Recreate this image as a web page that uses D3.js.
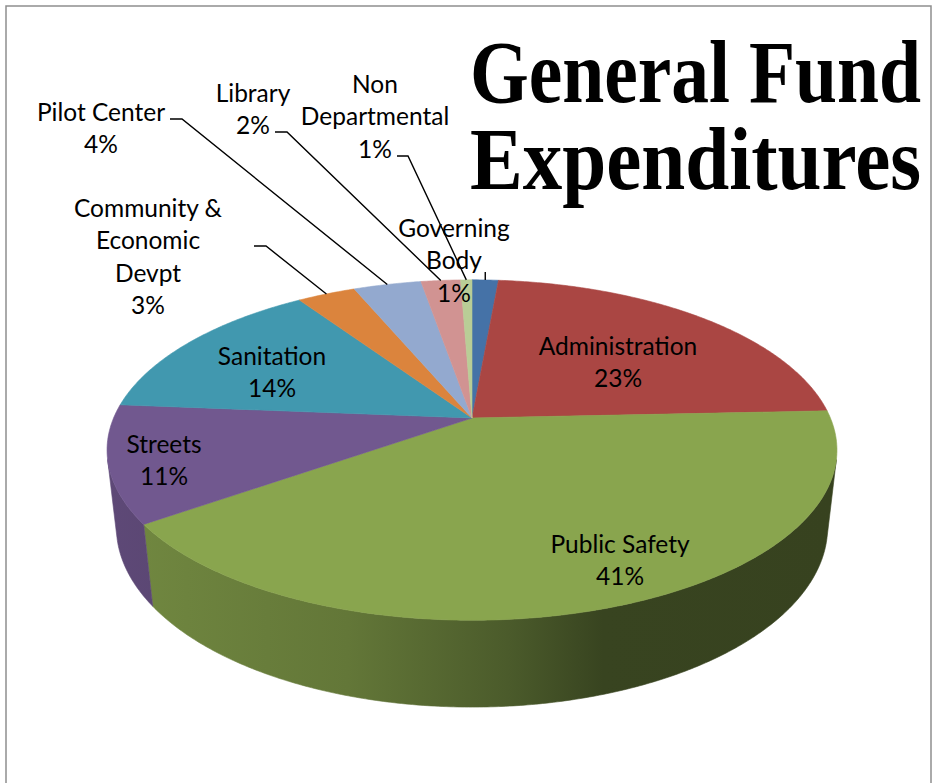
<!DOCTYPE html>
<html>
<head>
<meta charset="utf-8">
<script src="https://cdn.jsdelivr.net/npm/d3@7"></script>
<style>
  body { margin: 0; background: #fff; }
  .lbl { font-family: Lato, "Open Sans", sans-serif; font-size: 24.5px; fill: #000; }
  .title { font-family: "Liberation Serif", serif; font-weight: bold; font-size: 89px; fill: #000; }
</style>
</head>
<body>
<div id="chart"></div>
<script>
// data
const categories = ["Governing Body", "Administration", "Public Safety", "Streets", "Sanitation",
    "Community & Economic Devpt", "Pilot Center", "Library", "Non Departmental"]
const values = [1.4, 22.9, 40.9, 11.1, 14.3, 3.1, 3.6, 2.1, 0.6]
const colors = ["#4572A7", "#AA4643", "#89A54E", "#71588F", "#4198AF", "#DB843D", "#93A9CF", "#D19392", "#B9CD96"]
const labelLines = [
    ["Governing", "Body"],
    ["Administration"],
    ["Public Safety"],
    ["Streets"],
    ["Sanitation"],
    ["Community &", "Economic", "Devpt"],
    ["Pilot Center"],
    ["Library"],
    ["Non", "Departmental"]
]

// label layout: centre x, first baseline, optional leader stub (x1, x2, y)
const labelPos = [
    { x: 454, y: 237 },
    { x: 618, y: 355 },
    { x: 620, y: 553 },
    { x: 164, y: 453 },
    { x: 272, y: 365 },
    { x: 148, y: 217, stub: [254, 266, 246] },
    { x: 101, y: 121, stub: [170, 182, 119] },
    { x: 253, y: 102, stub: [275, 287, 132] },
    { x: 375, y: 93, stub: [397, 408, 156] }
]

const W = 935, H = 783
const svg = d3.select("#chart").append("svg")
    .attr("width", W)
    .attr("height", H)

// frame
svg.append("path")
    .attr("d", "M6,790 L6,6 L931,6 L931,790")
    .attr("fill", "none")
    .attr("stroke", "#8e8e8e")
    .attr("stroke-width", 1.5)

// perspective projection of the pie disc
const cx = 472, cy = 418, sx = 1681, sy = 1640
const D = 4.69, alpha = 28 * Math.PI / 180, depth = 0.252
const sa = Math.sin(alpha), ca = Math.cos(alpha)

function proj(r, theta, y) {
    const X = r * Math.sin(theta), Z = r * Math.cos(theta)
    const dist = D + Z * ca - y * sa
    const u = Z * sa + y * ca
    return [cx + sx * X / dist, cy - sy * u / dist]
}

const pie = d3.pie().sort(null).value(d => d)
const arcs = pie(values)

// side gradients (light on the left, dark on the right)
const defs = svg.append("defs")
const shade = [[0, 0.83], [0.33, 0.72], [0.55, 0.55], [0.68, 0.41], [1, 0.40]]
colors.forEach((c, i) => {
    const g = defs.append("linearGradient")
        .attr("id", "side" + i)
        .attr("gradientUnits", "userSpaceOnUse")
        .attr("x1", 107).attr("x2", 836).attr("y1", 0).attr("y2", 0)
    const base = d3.rgb(c)
    shade.forEach(s => {
        g.append("stop")
            .attr("offset", s[0])
            .attr("stop-color", d3.rgb(base.r * s[1], base.g * s[1], base.b * s[1]).formatHex())
    })
})

// visible range of the outer wall
const thVis = Math.acos(-1 / (D * ca))
const step = Math.PI / 360

const line = d3.line()

arcs.forEach((a, i) => {
    const t0 = Math.max(a.startAngle, thVis)
    const t1 = Math.min(a.endAngle, 2 * Math.PI - thVis)
    if (t1 <= t0) return
    const top = [], bot = []
    for (let t = t0; t < t1; t += step) {
        top.push(proj(1, t, 0))
        bot.push(proj(1, t, -depth))
    }
    top.push(proj(1, t1, 0))
    bot.push(proj(1, t1, -depth))
    svg.append("path")
        .attr("class", "wall")
        .attr("d", line(top.concat(bot.reverse())) + "Z")
        .attr("fill", "url(#side" + i + ")")
        .attr("stroke", "url(#side" + i + ")")
        .attr("stroke-width", 0.6)
})

// top faces
arcs.forEach((a, i) => {
    const pts = [proj(0, 0, 0)]
    for (let t = a.startAngle; t < a.endAngle; t += step) pts.push(proj(1, t, 0))
    pts.push(proj(1, a.endAngle, 0))
    svg.append("path")
        .attr("class", "slice")
        .attr("d", line(pts) + "Z")
        .attr("fill", colors[i])
        .attr("stroke", colors[i])
        .attr("stroke-width", 0.6)
})

// leader lines
arcs.forEach((a, i) => {
    const p = labelPos[i]
    const mid = proj(1, (a.startAngle + a.endAngle) / 2, 0)
    if (p.stub) {
        svg.append("path")
            .attr("d", line([[p.stub[0], p.stub[2]], [p.stub[1], p.stub[2]], mid]))
            .attr("fill", "none")
            .attr("stroke", "#000")
            .attr("stroke-width", 1.4)
    } else if (i === 0) {
        svg.append("path")
            .attr("d", line([[mid[0], mid[1] - 8], mid]))
            .attr("fill", "none")
            .attr("stroke", "#000")
            .attr("stroke-width", 1.4)
    }
})

// labels
arcs.forEach((a, i) => {
    const p = labelPos[i]
    const lines = labelLines[i].concat([Math.round(values[i]) + "%"])
    const t = svg.append("text")
        .attr("class", "lbl")
        .attr("text-anchor", "middle")
    lines.forEach((s, k) => {
        t.append("tspan")
            .attr("x", p.x)
            .attr("y", p.y + k * 32.3)
            .text(s)
    })
})

// title
const titleLines = ["General Fund", "Expenditures"]
titleLines.forEach((s, k) => {
    svg.append("text")
        .attr("class", "title")
        .attr("x", 470)
        .attr("y", 102 + k * 87)
        .attr("textLength", 451)
        .attr("lengthAdjust", "spacingAndGlyphs")
        .text(s)
})
</script>
</body>
</html>
